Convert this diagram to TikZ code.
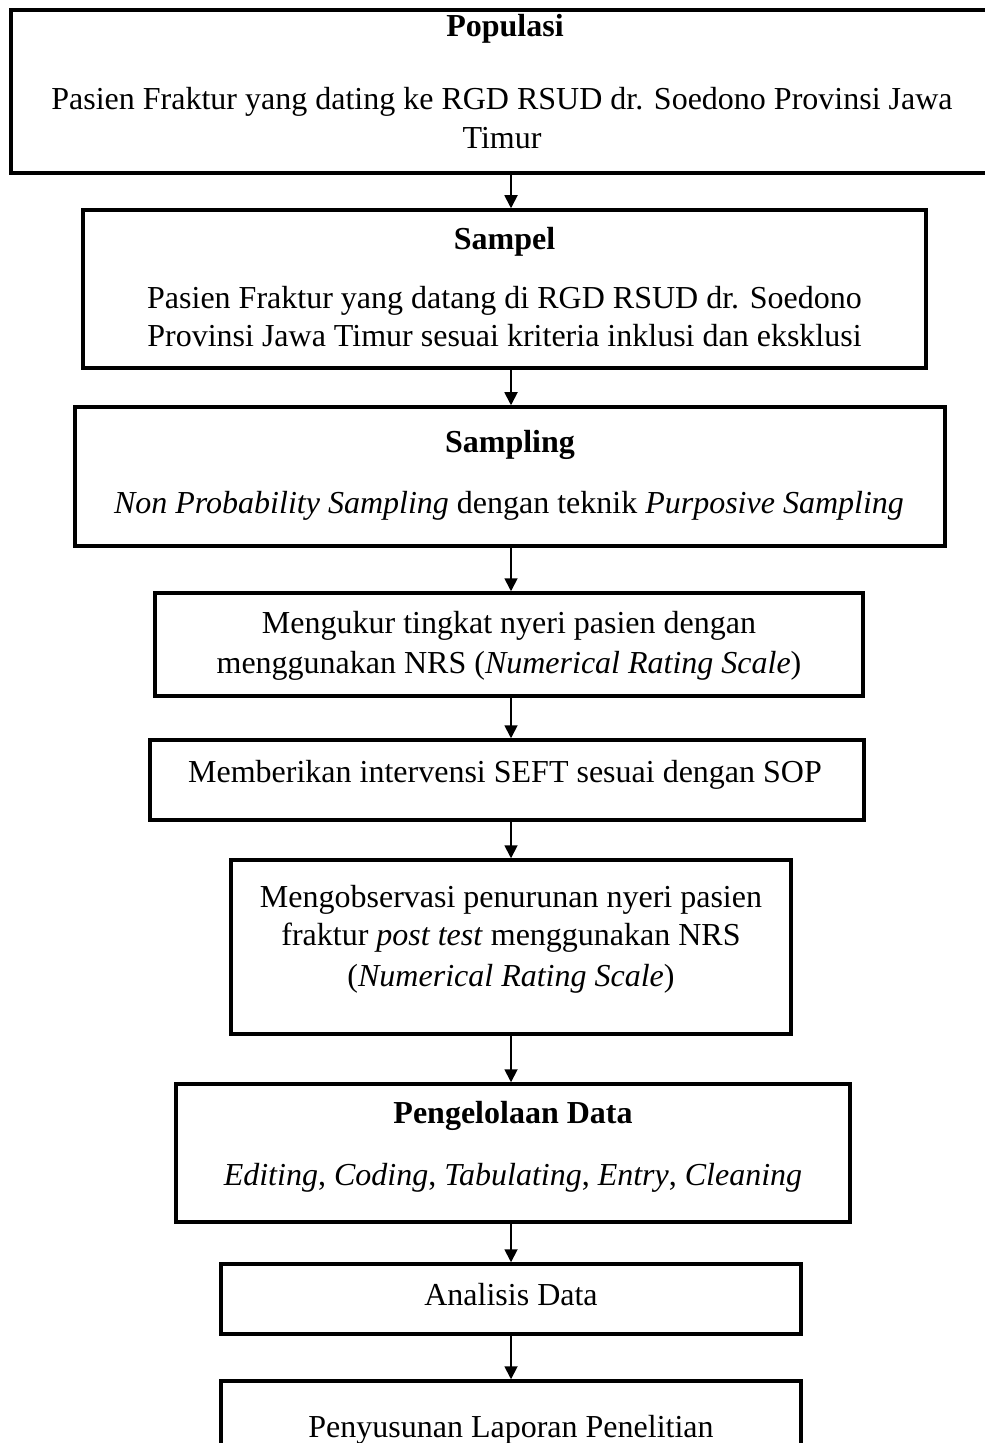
\documentclass[tikz,border=0pt]{standalone}
\usepackage{fontspec}
\setmainfont{Liberation Serif}
\usetikzlibrary{arrows.meta}

\begin{document}
\begin{tikzpicture}[x=0.5pt, y=-0.5pt,
		box/.style={draw=black, line width=1.75pt, rectangle, inner sep=0pt},
		txt/.style={anchor=base, inner sep=0pt, font=\fontsize{16pt}{19pt}\selectfont},
		arr/.style={-{Triangle[width=6.5pt, length=6.5pt]}, line width=0.9pt}]
	\useasboundingbox (0,0) rectangle (984,1443);
	\coordinate (ax) at (511,0);

	% kotak alur
	\node[box, minimum width=494.5pt, minimum height=81.5pt] (pop) at (505.5,91.5) {};
	\node[box, minimum width=421.5pt, minimum height=79pt] (sam) at (504.5,289) {};
	\node[box, minimum width=435pt, minimum height=69.5pt] (smp) at (510,476.5) {};
	\node[box, minimum width=354pt, minimum height=51.5pt] (ukur) at (509,644.5) {};
	\node[box, minimum width=357pt, minimum height=40pt] (seft) at (507,780) {};
	\node[box, minimum width=280pt, minimum height=87pt] (obs) at (511,947) {};
	\node[box, minimum width=337pt, minimum height=69pt] (olah) at (513,1153) {};
	\node[box, minimum width=290pt, minimum height=35pt] (anl) at (511,1299) {};
	\node[box, minimum width=290pt, minimum height=45pt] (lap) at (511,1426) {};

	% teks
	\node[txt] (popT) at (505,37) {\textbf{Populasi}};
	\node[txt] (popA) at (502,110) {Pasien Fraktur yang dating ke RGD RSUD dr. Soedono Provinsi Jawa};
	\node[txt] (popB) at (502,149) {Timur};
	\node[txt] (samT) at (504.5,250) {\textbf{Sampel}};
	\node[txt] (samA) at (504.5,309) {Pasien Fraktur yang datang di RGD RSUD dr. Soedono};
	\node[txt] (samB) at (504.5,347) {Provinsi Jawa Timur sesuai kriteria inklusi dan eksklusi};
	\node[txt] (smpT) at (510,452) {\textbf{Sampling}};
	\node[txt] (smpA) at (509,513) {\textit{Non Probability Sampling} dengan teknik \textit{Purposive Sampling}};
	\node[txt] (ukurA) at (509,633) {Mengukur tingkat nyeri pasien dengan};
	\node[txt] (ukurB) at (509,673) {menggunakan NRS (\textit{Numerical Rating Scale})};
	\node[txt] (seftA) at (505,782) {Memberikan intervensi SEFT sesuai dengan SOP};
	\node[txt] (obsA) at (511,907) {Mengobservasi penurunan nyeri pasien};
	\node[txt] (obsB) at (511,945) {fraktur \textit{post test} menggunakan NRS};
	\node[txt] (obsC) at (511,986) {(\textit{Numerical Rating Scale})};
	\node[txt] (olahT) at (513,1123) {\textbf{Pengelolaan Data}};
	\node[txt] (olahA) at (513,1185) {\textit{Editing}, \textit{Coding}, \textit{Tabulating}, \textit{Entry}, \textit{Cleaning}};
	\node[txt] (anlA) at (511,1305) {Analisis Data};
	\node[txt] (lapA) at (511,1437) {Penyusunan Laporan Penelitian};

	% panah
	\draw[arr] (pop.south -| ax) -- (sam.north -| ax);
	\draw[arr] (sam.south -| ax) -- (smp.north -| ax);
	\draw[arr] (smp.south -| ax) -- (ukur.north -| ax);
	\draw[arr] (ukur.south -| ax) -- (seft.north -| ax);
	\draw[arr] (seft.south -| ax) -- (obs.north -| ax);
	\draw[arr] (obs.south -| ax) -- (olah.north -| ax);
	\draw[arr] (olah.south -| ax) -- (anl.north -| ax);
	\draw[arr] (anl.south -| ax) -- (lap.north -| ax);
\end{tikzpicture}
\end{document}
